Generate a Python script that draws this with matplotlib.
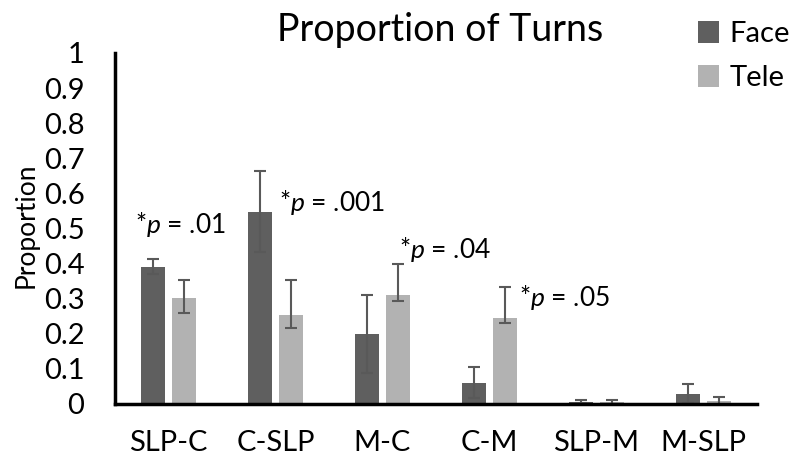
import numpy as np
import matplotlib.pyplot as plt

categories = ["SLP-C", "C-SLP", "M-C", "C-M", "SLP-M", "M-SLP"]
face = [0.391, 0.548, 0.198, 0.061, 0.007, 0.029]
tele = [0.302, 0.253, 0.311, 0.244, 0.005, 0.008]
face_err_lo = [0.021, 0.115, 0.111, 0.043, 0.005, 0.027]
face_err_hi = [0.023, 0.116, 0.112, 0.044, 0.005, 0.027]
tele_err_lo = [0.043, 0.036, 0.018, 0.014, 0.004, 0.007]
tele_err_hi = [0.052, 0.101, 0.089, 0.09, 0.007, 0.012]
notes = ["*$\\it{p}$ = .01", "*$\\it{p}$ = .001", "*$\\it{p}$ = .04", "*$\\it{p}$ = .05"]
ytick_labels = ["0", "0.1", "0.2", "0.3", "0.4", "0.5", "0.6", "0.7", "0.8", "0.9", "1"]

plt.rcParams['font.family'] = ['Lato', 'DejaVu Sans']
plt.rcParams['mathtext.fontset'] = 'custom'
plt.rcParams['mathtext.it'] = 'Lato:italic'
plt.rcParams['mathtext.rm'] = 'Lato'

fig = plt.figure(figsize=(7.99, 4.68), dpi=100)
ax = fig.add_axes([0.1439, 0.1368, 0.8035, 0.75])

x = np.arange(len(categories))
w = 0.218
off = 0.144
err_kw = dict(ecolor="#595959", elinewidth=1.5, capsize=4.2, capthick=1.5)
bars_f = ax.bar(x - off, face, w, color="#5f5f5f", label="Face",
                yerr=[face_err_lo, face_err_hi], error_kw=err_kw)
bars_t = ax.bar(x + off, tele, w, color="#b2b2b2", label="Tele",
                yerr=[tele_err_lo, tele_err_hi], error_kw=err_kw)

# significance notes
ax.text(-0.313, 0.487, notes[0], fontsize=19, va="baseline")
ax.text(1.033, 0.551, notes[1], fontsize=19, va="baseline")
ax.text(2.154, 0.415, notes[2], fontsize=19, va="baseline")
ax.text(3.276, 0.280, notes[3], fontsize=19, va="baseline")

ax.set_xlim(-0.5, len(categories) - 0.5)
ax.set_ylim(0, 1)
ax.set_yticks(np.arange(0, 1.01, 0.1))
ax.set_yticklabels(ytick_labels)
ax.set_xticks(x)
ax.set_xticklabels(categories)
ax.tick_params(axis="both", length=0, labelsize=21)
ax.tick_params(axis="y", pad=22)
ax.tick_params(axis="x", pad=19)
for s in ["top", "right"]:
    ax.spines[s].set_visible(False)
for s in ["left", "bottom"]:
    ax.spines[s].set_linewidth(2.5)
ax.set_ylabel("Proportion", fontsize=19, va="center")
ax.yaxis.set_label_coords(-0.138, 0.51)

fig.text(0.551, 0.935, "Proportion of Turns", fontsize=27, ha="center", va="center")
fig.legend(handles=[bars_f, bars_t], loc="upper left", bbox_to_anchor=(0.873, 0.955),
           frameon=False, fontsize=21, borderpad=0, borderaxespad=0,
           handlelength=0.75, handleheight=0.75, handletextpad=0.34, labelspacing=0.62)

fig.savefig("out.png")
